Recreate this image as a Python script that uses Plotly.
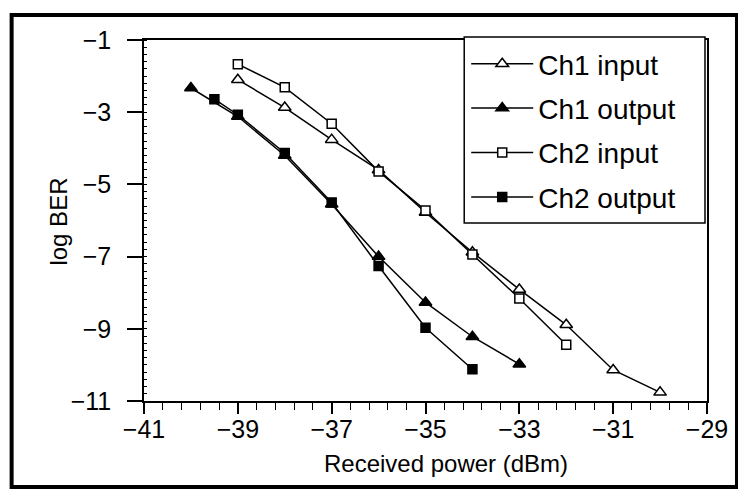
import plotly.graph_objects as go

# Data
ch1_in_x = [-39, -38, -37, -36, -35, -34, -33, -32, -31, -30]
ch1_in_y = [-2.10, -2.87, -3.76, -4.60, -5.78, -6.88, -7.91, -8.89, -10.14, -10.76]

ch1_out_x = [-40, -39, -38, -37, -36, -35, -34, -33]
ch1_out_y = [-2.33, -3.12, -4.20, -5.55, -7.00, -8.27, -9.22, -9.98]

ch2_in_x = [-39, -38, -37, -36, -35, -34, -33, -32]
ch2_in_y = [-1.67, -2.31, -3.32, -4.64, -5.72, -6.94, -8.16, -9.44]

ch2_out_x = [-39.5, -39, -38, -37, -36, -35, -34]
ch2_out_y = [-2.64, -3.07, -4.13, -5.50, -7.26, -8.97, -10.12]

x_ticks = [-41, -39, -37, -35, -33, -31, -29]
y_ticks = [-1, -3, -5, -7, -9, -11]

names = ["Ch1 input", "Ch1 output", "Ch2 input", "Ch2 output"]

FONT = "Liberation Sans, Arial, sans-serif"

fig = go.Figure()

series = [
    (ch1_in_x, ch1_in_y, "triangle-up", "white", 11),
    (ch1_out_x, ch1_out_y, "triangle-up", "black", 11),
    (ch2_in_x, ch2_in_y, "square", "white", 9),
    (ch2_out_x, ch2_out_y, "square", "black", 9),
]
for i, (xs, ys, sym, fill, sz) in enumerate(series):
    fig.add_trace(go.Scatter(
        x=xs, y=ys, mode="lines+markers", name=names[i],
        legendgroup=names[i],
        line=dict(color="black", width=1.5),
        marker=dict(symbol=sym, color=fill, size=sz,
                    line=dict(color="black", width=1.5)),
    ))

L, R, T, B = 143.5, 31, 40, 92
W, H = 738, 493
pw, ph = W - L - R, H - T - B

def px_x(p):
    return (p - L) / pw

def px_y(p):
    return (H - B - p) / ph

fig.update_layout(
    width=W, height=H,
    margin=dict(l=L, r=R, t=T, b=B, autoexpand=False),
    paper_bgcolor="white", plot_bgcolor="white",
    font=dict(family=FONT, color="black"),
    showlegend=True,
    legend=dict(
        x=px_x(466), y=px_y(39), xanchor="left", yanchor="top",
        bgcolor="rgba(0,0,0,0)", borderwidth=0,
        font=dict(size=28, family=FONT, color="black"),
        tracegroupgap=5, itemwidth=62,
    ),
    xaxis=dict(
        range=[-41, -29], tickmode="array", tickvals=x_ticks,
        ticktext=["\u2212" + str(abs(v)) for v in x_ticks],
        showline=True, linecolor="black", linewidth=1.5, mirror=True,
        ticks="outside", ticklen=11, tickwidth=1.5, tickcolor="black",
        ticklabelstandoff=-6,
        tickfont=dict(size=25, family=FONT, color="black"),
        showgrid=False, zeroline=False,
        minor=dict(dtick=0.4, tick0=-41, ticks="outside", ticklen=7,
                   tickwidth=1, tickcolor="black", showgrid=False),
    ),
    yaxis=dict(
        range=[-11, -1], tickmode="array", tickvals=y_ticks,
        ticktext=["\u2212" + str(abs(v)) for v in y_ticks],
        showline=True, linecolor="black", linewidth=1.5, mirror=True,
        ticks="outside", ticklen=15, tickwidth=1.5, tickcolor="black",
        ticklabelstandoff=11,
        tickfont=dict(size=25, family=FONT, color="black"),
        showgrid=False, zeroline=False,
        minor=dict(dtick=0.2, tick0=-11, ticks="inside", ticklen=3,
                   tickwidth=1, tickcolor="black", showgrid=False),
    ),
    annotations=[
        dict(text="Received power (dBm)", xref="paper", yref="paper",
             x=px_x(446), y=px_y(464), xanchor="center", yanchor="middle",
             showarrow=False, font=dict(size=24, family=FONT, color="black")),
        dict(text="log BER", xref="paper", yref="paper",
             x=px_x(57), y=px_y(222), xanchor="center", yanchor="middle",
             textangle=-90, showarrow=False,
             font=dict(size=24, family=FONT, color="black")),
    ],
    shapes=[
        dict(type="rect", xref="paper", yref="paper",
             x0=px_x(11), x1=px_x(737), y0=px_y(487), y1=px_y(15),
             line=dict(color="black", width=4), fillcolor="rgba(0,0,0,0)",
             layer="below"),
        dict(type="rect", xref="paper", yref="paper",
             x0=px_x(464), x1=px_x(705), y0=px_y(223), y1=px_y(37),
             line=dict(color="black", width=1.5), fillcolor="white",
             layer="above"),
    ],
)

fig.write_html("out.html")
